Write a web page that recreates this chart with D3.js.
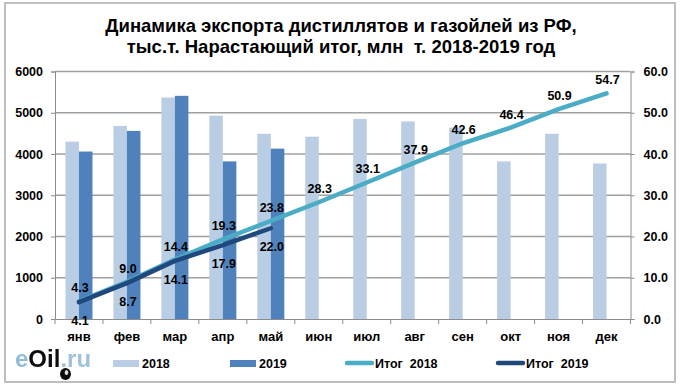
<!DOCTYPE html>
<html>
<head>
<meta charset="utf-8">
<script src="https://cdn.jsdelivr.net/npm/d3@7"></script>
<style>
  html, body { margin: 0; background: #fff; }
  text { font-family: "Liberation Sans", Arial, sans-serif; fill: #000; white-space: pre; }
</style>
</head>
<body>
<div id="chart"></div>
<script>
const months = ['янв', 'фев', 'мар', 'апр', 'май', 'июн', 'июл', 'авг', 'сен', 'окт', 'ноя', 'дек']
const export2018 = [4300, 4680, 5370, 4930, 4490, 4420, 4850, 4790, 4640, 3820, 4490, 3770]
const export2019 = [4060, 4560, 5410, 3820, 4130]
const total2018 = [4.3, 9.0, 14.4, 19.3, 23.8, 28.3, 33.1, 37.9, 42.6, 46.4, 50.9, 54.7]
const total2019 = [4.1, 8.7, 14.1, 17.9, 22.0]
const leftTicks = [0, 1000, 2000, 3000, 4000, 5000, 6000]
const rightTicks = [0, 10, 20, 30, 40, 50, 60]
const titleLines = ['Динамика экспорта дистиллятов и газойлей из РФ,', 'тыс.т. Нарастающий итог, млн  т. 2018-2019 год']

const width = 682
const height = 389
const margins = { top: 71.5, bottom: 70, left: 55, right: 51.5 }

const color2018 = '#b9cde5'
const color2019 = '#4f81bd'
const colorTotal2018 = '#4bacc6'
const colorTotal2019 = '#1f497d'
const labelSize = 12.5

let svg = d3.select('#chart').append('svg')
  .attr('width', width)
  .attr('height', height)
  .style('display', 'block')

// outer frame
svg.append('rect')
  .attr('x', 5).attr('y', 3)
  .attr('width', 670).attr('height', 379)
  .attr('fill', '#fff')
  .attr('stroke', '#bfbfbf')
  .attr('stroke-width', 2)

let xScale = d3.scaleBand().domain(months).range([margins.left, width - margins.right])
let yLeft = d3.scaleLinear().domain([0, 6000]).range([height - margins.bottom, margins.top])
let yRight = d3.scaleLinear().domain([0, 60]).range([height - margins.bottom, margins.top])
let barWidth = 13.5
let center = m => xScale(m) + xScale.bandwidth() / 2

// gridlines
svg.append('g').selectAll('line')
  .data(leftTicks.slice(1))
  .join('line')
  .attr('x1', margins.left)
  .attr('x2', width - margins.right)
  .attr('y1', d => yLeft(d))
  .attr('y2', d => yLeft(d))
  .attr('stroke', '#a0a0a0')
  .attr('stroke-width', 1.3)

svg.append('g').selectAll('rect')
  .data(export2018)
  .join('rect')
  .attr('x', (d, i) => center(months[i]) - barWidth)
  .attr('y', d => yLeft(d))
  .attr('width', barWidth)
  .attr('height', d => yLeft(0) - yLeft(d))
  .attr('fill', color2018)

svg.append('g').selectAll('rect')
  .data(export2019)
  .join('rect')
  .attr('x', (d, i) => center(months[i]))
  .attr('y', d => yLeft(d))
  .attr('width', barWidth)
  .attr('height', d => yLeft(0) - yLeft(d))
  .attr('fill', color2019)

// axes
let styleAxis = g => {
  g.selectAll('path, line').attr('stroke', '#8c8c8c')
  g.selectAll('text').attr('font-size', labelSize).attr('font-weight', 'bold')
    .style('font-family', '"Liberation Sans", Arial, sans-serif').style('fill', '#000')
}

svg.append('g')
  .attr('transform', `translate(${margins.left}, 0)`)
  .call(d3.axisLeft(yLeft).tickValues(leftTicks).tickFormat(d3.format('d')).tickSizeOuter(0).tickSize(4).tickPadding(8))
  .call(styleAxis)

svg.append('g')
  .attr('transform', `translate(${width - margins.right}, 0)`)
  .call(d3.axisRight(yRight).tickValues(rightTicks).tickFormat(d3.format('.1f')).tickSizeOuter(0).tickSize(4).tickPadding(9))
  .call(styleAxis)

let xAxis = svg.append('g')
  .attr('transform', `translate(0, ${height - margins.bottom})`)
  .call(d3.axisBottom(xScale).tickSize(0).tickPadding(13))
  .call(styleAxis)

xAxis.selectAll('.tick text').attr('font-size', 13)

// ticks sit between the categories
xAxis.selectAll('.sep')
  .data(months.concat('end'))
  .join('line')
  .attr('class', 'sep')
  .attr('x1', (d, i) => margins.left + i * xScale.bandwidth())
  .attr('x2', (d, i) => margins.left + i * xScale.bandwidth())
  .attr('y1', 0)
  .attr('y2', 5)
  .attr('stroke', '#8c8c8c')

// cumulative lines
let line = d3.line()
  .x((d, i) => center(months[i]))
  .y(d => yRight(d))

let drawTotal = (values, color) => svg.append('path')
  .datum(values)
  .attr('d', line)
  .attr('fill', 'none')
  .attr('stroke', color)
  .attr('stroke-width', 4.5)
  .attr('stroke-linecap', 'round')
  .attr('stroke-linejoin', 'round')

drawTotal(total2018, colorTotal2018)
drawTotal(total2019, colorTotal2019)

// value labels: 2018 above its line, 2019 below
let drawLabels = (values, dy) => svg.append('g').selectAll('text')
  .data(values)
  .join('text')
  .attr('x', (d, i) => center(months[i]) + 1)
  .attr('y', d => yRight(d) + dy)
  .attr('text-anchor', 'middle')
  .attr('font-size', labelSize)
  .attr('font-weight', 'bold')
  .text(d => d.toFixed(1))

drawLabels(total2018, -9)
drawLabels(total2019, 23)

// title
svg.append('g').selectAll('text')
  .data(titleLines)
  .join('text')
  .attr('x', 341)
  .attr('y', (d, i) => 32 + i * 21)
  .attr('text-anchor', 'middle')
  .attr('font-size', 18.5)
  .attr('font-weight', 'bold')
  .text(d => d)

// legend
let legend = svg.append('g')
let barKey = (x, c, label) => {
  legend.append('rect').attr('x', x).attr('y', 360).attr('width', 26).attr('height', 7).attr('fill', c)
  legend.append('text').attr('x', x + 29).attr('y', 368).attr('font-size', 12.5).attr('font-weight', 'bold').text(label)
}
let lineKey = (x, c, label) => {
  legend.append('line').attr('x1', x + 2).attr('x2', x + 27).attr('y1', 363).attr('y2', 363)
    .attr('stroke', c).attr('stroke-width', 4.5).attr('stroke-linecap', 'round')
  legend.append('text').attr('x', x + 30).attr('y', 368).attr('font-size', 12.5).attr('font-weight', 'bold').text(label)
}
barKey(113, color2018, '2018')
barKey(230, color2019, '2019')
lineKey(345, colorTotal2018, 'Итог  2018')
lineKey(496, colorTotal2019, 'Итог  2019')

// logo
svg.append('filter').attr('id', 'soft').append('feGaussianBlur').attr('stdDeviation', 0.5)
let logo = svg.append('g').attr('filter', 'url(#soft)')
let logoText = logo.append('text').attr('x', 15).attr('y', 367).attr('font-size', 24).attr('font-weight', 'bold')
logoText.append('tspan').style('fill', '#8fbcdc').text('e')
logoText.append('tspan').style('fill', '#111').text('Oil')
logoText.append('tspan').style('fill', '#9fc3dc').text('.ru')
logo.append('ellipse').attr('cx', 65.5).attr('cy', 374).attr('rx', 5.5).attr('ry', 6).attr('fill', '#111')
logo.append('ellipse').attr('cx', 66.5).attr('cy', 372.5).attr('rx', 1.8).attr('ry', 2.5).attr('fill', '#ddd')
</script>
</body>
</html>
